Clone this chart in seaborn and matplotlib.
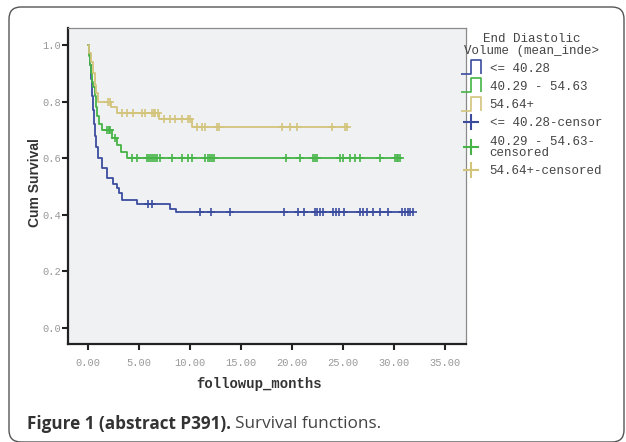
import numpy as np
import matplotlib
matplotlib.use("Agg")
import matplotlib.pyplot as plt
from matplotlib.lines import Line2D
from matplotlib.path import Path
from matplotlib.patches import FancyBboxPatch
import seaborn as sns

sns.set_style("white")

# Kaplan-Meier steps (months, cumulative survival)
low_times = [0.1, 0.2, 0.3, 0.4, 0.5, 0.6, 0.7, 0.8, 1.0, 1.4, 1.9, 2.5, 2.8, 3.0, 3.3, 4.8, 8.0, 8.6]
low_surv = [0.97, 0.93, 0.88, 0.82, 0.77, 0.72, 0.68, 0.64, 0.60, 0.565, 0.53, 0.51, 0.495, 0.475, 0.453, 0.438, 0.42, 0.41]
low_cens = [5.9, 6.3, 11.0, 12.1, 13.9, 19.2, 20.6, 21.2, 22.3, 22.5, 22.7, 23.0, 24.0, 24.3, 24.6, 25.1,
            26.7, 27.0, 27.4, 27.9, 28.6, 29.4, 30.8, 31.1, 31.4, 31.6, 31.9]

mid_times = [0.1, 0.2, 0.3, 0.4, 0.5, 0.7, 0.8, 0.9, 1.1, 1.4, 2.4, 2.8, 3.2, 3.8]
mid_surv = [0.96, 0.93, 0.90, 0.87, 0.85, 0.82, 0.78, 0.75, 0.72, 0.70, 0.67, 0.645, 0.62, 0.60]
mid_cens = [1.9, 2.1, 2.2, 2.6, 4.3, 4.8, 5.8, 6.0, 6.2, 6.4, 6.6, 6.8, 7.1, 8.2, 9.2, 9.8, 10.2,
            11.5, 11.8, 12.0, 12.2, 12.4, 19.4, 20.8, 22.1, 22.3, 22.5, 24.7, 25.0, 25.7, 26.2, 26.7,
            28.6, 30.1, 30.3, 30.4, 30.6]

high_times = [0.1, 0.3, 0.5, 0.7, 0.8, 1.0, 2.3, 2.8, 7.0, 10.2]
high_surv = [0.97, 0.94, 0.90, 0.86, 0.83, 0.80, 0.78, 0.76, 0.74, 0.71]
high_cens = [2.0, 2.2, 3.3, 3.8, 4.4, 5.3, 5.6, 6.3, 6.5, 6.6, 6.9, 7.5, 8.0, 8.5, 9.2, 9.8, 10.0,
             10.7, 11.2, 11.5, 12.6, 12.8, 19.0, 19.8, 20.5, 23.9, 25.2, 25.4]

group_labels = ["<= 40.28", "40.29 - 54.63", "54.64+"]
censor_labels = ["<= 40.28-censor", "40.29 - 54.63-\ncensored", "54.64+-censored"]
colors = ["#3b4c9e", "#46b446", "#d3c47c"]

x_ticks = [0, 5, 10, 15, 20, 25, 30, 35]
y_ticks = [0.0, 0.2, 0.4, 0.6, 0.8, 1.0]

groups = [(low_times, low_surv, low_cens),
          (mid_times, mid_surv, mid_cens),
          (high_times, high_surv, high_cens)]

mono = "Liberation Mono"

fig = plt.figure(figsize=(6.26, 4.42), dpi=100)
fig.patch.set_facecolor("white")
ax = fig.add_axes([68 / 626, 1 - 344 / 442, 398 / 626, 316 / 442])
ax.set_facecolor("#f0f1f3")

for (t, s, c), col in zip(groups, colors):
    xs = np.array([0.0] + t + [max(c)])
    ys = np.array([1.0] + s + [s[-1]])
    sns.lineplot(x=xs, y=ys, drawstyle="steps-post", color=col, lw=1.3,
                 estimator=None, sort=False, ax=ax, legend=False)
    # censor marks sit on the step curve
    idx = np.searchsorted(xs, c, side="right") - 1
    sns.scatterplot(x=c, y=ys[idx], marker="+", s=30, linewidth=1.2,
                    color=col, ax=ax, legend=False, zorder=3)

ax.set_xlim(-1.96, 37.06)
ax.set_ylim(-0.057, 1.06)
ax.set_xticks(x_ticks)
ax.set_xticklabels([f"{v:.2f}" for v in x_ticks], fontfamily=mono, fontsize=7.5, color="#999999")
ax.set_yticks(y_ticks)
ax.set_yticklabels([f"{v:.1f}" for v in y_ticks], fontfamily=mono, fontsize=7.5, color="#999999")
ax.tick_params(axis="x", direction="out", length=4, width=1.5, color="#222222", pad=6, bottom=True)
ax.tick_params(axis="y", direction="out", length=4, width=1.5, color="#222222", pad=1, left=True)

for side in ["left", "bottom"]:
    ax.spines[side].set_color("#222222")
    ax.spines[side].set_linewidth(1.6)
for side in ["top", "right"]:
    ax.spines[side].set_color("#8a8a8a")
    ax.spines[side].set_linewidth(0.9)

ax.set_xlabel("followup_months", fontfamily=mono, fontweight="bold", fontsize=10, color="#333333")
ax.xaxis.set_label_coords(0.48, -0.105)
ax.set_ylabel("Cum Survival", fontfamily="Liberation Sans", fontweight="bold", fontsize=10, color="#333333")
ax.yaxis.set_label_coords(-0.065, 0.51)

# legend: step icons for curves, plus signs for censored marks
step_icon = Path([(-1, -0.75), (0, -0.75), (0, 0.75), (1, 0.75), (1, -0.75)],
                 [Path.MOVETO, Path.LINETO, Path.LINETO, Path.LINETO, Path.LINETO])
handles = []
for col in colors:
    handles.append(Line2D([], [], linestyle="none", marker=step_icon, markersize=14,
                          markerfacecolor="none", markeredgecolor=col, markeredgewidth=1.2))
for col in colors:
    handles.append(Line2D([], [], linestyle="none", marker="+", markersize=11,
                          markeredgecolor=col, markeredgewidth=1.5))
leg = ax.legend(handles, group_labels + censor_labels,
                title="End Diastolic\nVolume (mean_inde>",
                loc="upper left", bbox_to_anchor=(461 / 626, 1 - 33 / 442),
                bbox_transform=fig.transFigure, frameon=False,
                prop={"family": mono, "size": 9}, title_fontproperties={"family": mono, "size": 9},
                handlelength=1.6, handletextpad=0.7, labelspacing=0.5, borderpad=0,
                borderaxespad=0)
for txt in leg.get_texts():
    txt.set_color("#444444")
    txt.set_linespacing(0.9)
leg.get_title().set_color("#444444")
leg.get_title().set_multialignment("center")
leg.get_title().set_linespacing(1.0)
leg._legend_box.sep = 4

# outer rounded frame of the figure panel
frame = FancyBboxPatch((0.09, 0.0), 6.15, 4.35, boxstyle="round,pad=0,rounding_size=0.12",
                       transform=fig.dpi_scale_trans, facecolor="none", edgecolor="#555555",
                       lw=1.0, zorder=-5)
fig.patches.append(frame)

cap_bold = fig.text(27 / 626, 1 - 424 / 442, "Figure 1 (abstract P391).", fontfamily="Open Sans",
                    fontweight="bold", fontsize=12.3, color="#333333", va="center")
fig.canvas.draw()
bb = cap_bold.get_window_extent()
fig.text((bb.x1 + 4) / fig.bbox.width, 1 - 424 / 442, "Survival functions.", fontfamily="Open Sans",
         fontsize=12.3, color="#444444", va="center")

fig.savefig("out.png", dpi=100)
